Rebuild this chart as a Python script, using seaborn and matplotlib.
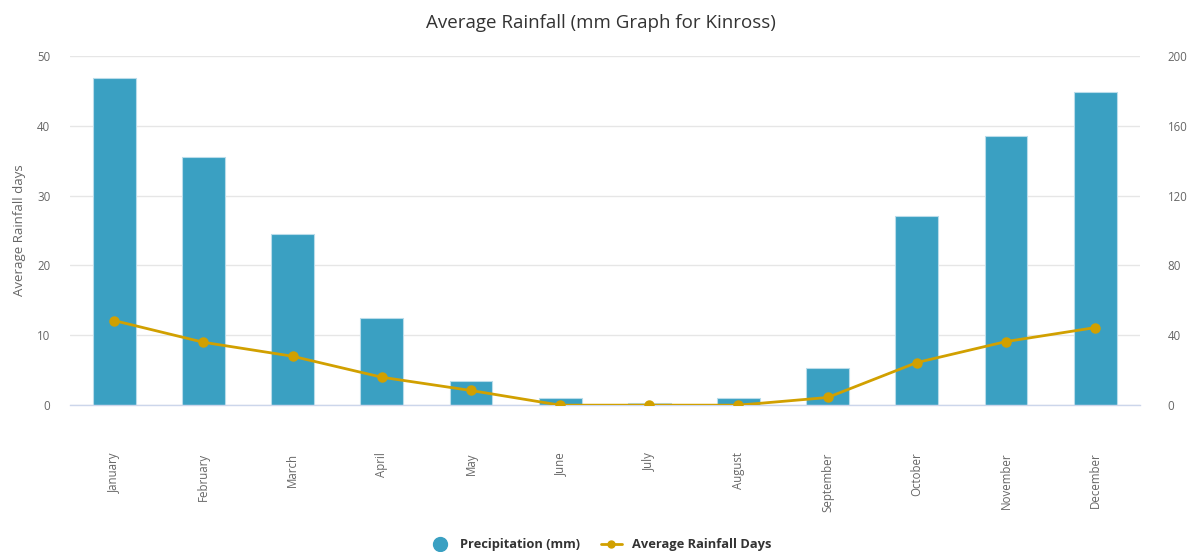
import matplotlib
matplotlib.use("Agg")
import matplotlib.pyplot as plt
import seaborn as sns
from matplotlib.lines import Line2D

# ────────── data ───────────────────────────────────────────────────────────────
months = ["January", "February", "March", "April", "May", "June", "July",
          "August", "September", "October", "November", "December"]
precip_mm = [187, 142, 98, 50, 14, 4, 1.5, 4, 21, 108, 154, 179]
rain_days = [12.1, 9.0, 7.0, 4.0, 2.1, 0, 0, 0, 1.1, 6.1, 9.1, 11.1]

BAR_COLOR = "#3aa0c2"
LINE_COLOR = "#d1a000"
GRID = "#e6e6e6"
TICK = "#666666"

sns.set_theme(style="white")
plt.rcParams["font.family"] = ["Open Sans", "DejaVu Sans"]

fig = plt.figure(figsize=(12.01, 5.52), dpi=100)
ax = fig.add_axes([0.058, 0.266, 0.891, 0.633])

# bars on the primary axis (right-hand scale 0-200)
sns.barplot(x=months, y=precip_mm, ax=ax, color=BAR_COLOR, saturation=1,
            width=0.48, edgecolor="#b9dcea", linewidth=0.8, zorder=2)
ax.set_ylim(0, 200)
ax.set_yticks([0, 40, 80, 120, 160, 200])
ax.yaxis.grid(True, color=GRID, linewidth=1)
ax.set_axisbelow(True)
for s in ax.spines.values():
    s.set_visible(False)
ax.spines["bottom"].set_visible(True)
ax.spines["bottom"].set_color("#ccd6eb")
ax.spines["bottom"].set_linewidth(1)

# line on the twin axis (left-hand scale 0-50)
ax2 = ax.twinx()
sns.pointplot(x=months, y=rain_days, ax=ax2, color=LINE_COLOR,
              markers="o", markersize=6, linewidth=2, errorbar=None)
ax2.set_ylim(0, 50)
ax2.set_yticks([0, 10, 20, 30, 40, 50])
ax2.yaxis.tick_left()
ax2.yaxis.set_label_position("left")
ax2.set_ylabel("Average Rainfall days", color=TICK, fontsize=9.5, labelpad=8)
for s in ax2.spines.values():
    s.set_visible(False)

# twinx puts the primary ticks back on the left, so move them now
ax.yaxis.tick_right()

ax.set_xlim(-0.5, 11.5)
ax.set_xticks(range(len(months)))
ax.set_xticklabels(months, rotation=90, va="top", ha="center")
ax.set_xlabel("")
ax.tick_params(axis="x", length=0, pad=34, labelsize=8.3, colors=TICK)
ax.tick_params(axis="y", length=0, pad=20, labelsize=8.3, colors=TICK)
ax2.tick_params(axis="y", length=0, pad=14, labelsize=8.3, colors=TICK)

fig.suptitle("Average Rainfall (mm Graph for Kinross)", y=0.975,
             fontsize=13.5, color="#333333")

handles = [
    Line2D([], [], marker="o", linestyle="none", markersize=10,
           markerfacecolor=BAR_COLOR, markeredgecolor=BAR_COLOR),
    Line2D([], [], marker="o", color=LINE_COLOR, linewidth=2, markersize=5),
]
leg = fig.legend(handles, ["Precipitation (mm)", "Average Rainfall Days"],
                 loc="lower center", bbox_to_anchor=(0.5, -0.02), ncol=2,
                 frameon=False, handlelength=1.6, columnspacing=1.6,
                 prop={"weight": "bold", "size": 9.3})
for t in leg.get_texts():
    t.set_color("#333333")

fig.savefig("out.png", dpi=100)
